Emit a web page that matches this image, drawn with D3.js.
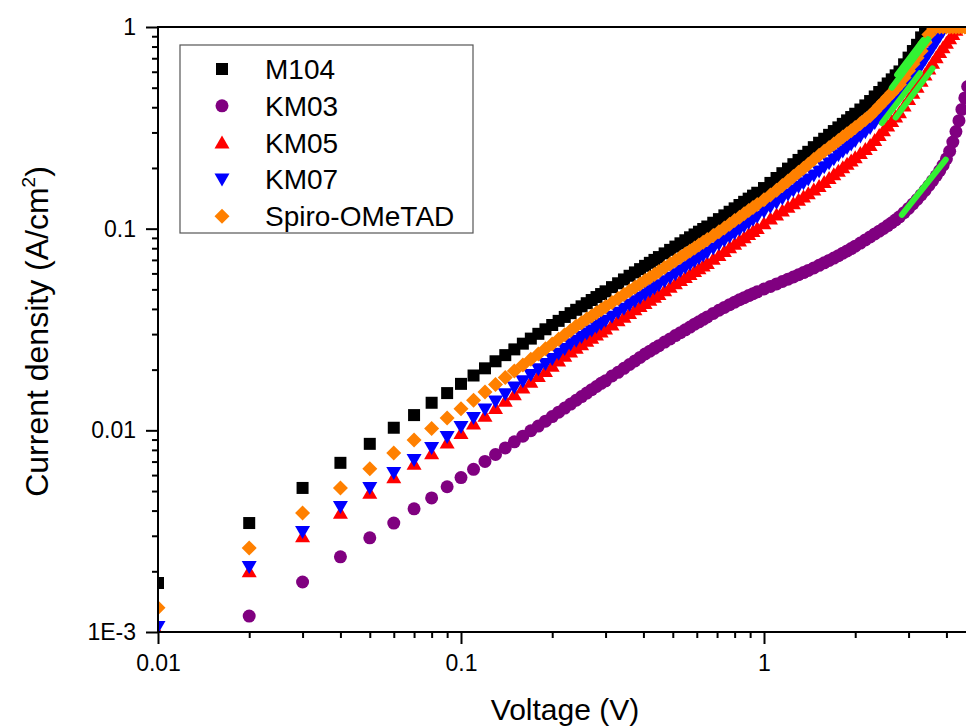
<!DOCTYPE html>
<html>
<head>
<meta charset="utf-8">
<script src="https://cdn.jsdelivr.net/npm/d3@7"></script>
<style>
  body { margin: 0; background: #fff; }
  text { font-family: "Liberation Sans", Arial, sans-serif; fill: #000; }
</style>
</head>
<body>
<div id="jv_loglog"></div>
<script>
// voltage points (V), shared by every sample
var voltage = [
  0.01,0.02,0.03,0.04,0.05,0.06,0.07,0.08,0.09,0.10,
  0.11,0.12,0.13,0.14,0.15,0.16,0.17,0.18,0.19,0.20,
  0.21,0.22,0.23,0.24,0.25,0.26,0.27,0.28,0.29,0.30,
  0.315,0.33,0.345,0.36,0.375,0.39,0.405,0.42,0.435,0.45,
  0.47,0.49,0.51,0.53,0.55,0.57,0.59,0.61,0.63,0.65,
  0.68,0.71,0.74,0.77,0.80,0.83,0.86,0.89,0.92,0.95,
  1.00,1.05,1.10,1.15,1.20,1.25,1.30,1.35,1.40,
  1.46,1.52,1.58,1.64,1.70,1.76,1.82,1.88,1.94,2.00,
  2.08,2.16,2.24,2.32,2.40,2.48,2.56,2.64,2.72,2.80,
  2.9,3.0,3.1,3.2,3.3,3.4,3.5,3.6,3.7,3.8,3.9,4.0,4.1,4.2,4.3,4.4,4.5,4.6,4.7
];

// current density (A/cm2) for each sample
var jM104 = [
  0.00175,0.00347,0.00518,0.0069,0.00857,0.0103,0.0119,0.0137,0.0153,0.0170,
  0.0187,0.0203,0.0220,0.0236,0.0252,0.0269,0.0285,0.0301,0.0317,0.0333,
  0.0349,0.0365,0.0381,0.0396,0.0412,0.0427,0.0443,0.0458,0.0474,0.0489,
  0.0513,0.0536,0.0560,0.0584,0.0607,0.0630,0.0654,0.0677,0.0700,0.0723,
  0.0754,0.0785,0.0815,0.0846,0.0876,0.0906,0.0936,0.0966,0.0996,0.1025,
  0.1070,0.1115,0.1164,0.1213,0.1261,0.1310,0.1359,0.1409,0.1458,0.1507,
  0.159,0.1686,0.1784,0.1884,0.1985,0.2088,0.2192,0.2298,0.2405,
  0.2536,0.2667,0.2792,0.2919,0.3048,0.3178,0.3309,0.3443,0.3577,0.3714,
  0.3898,0.4085,0.4294,0.4524,0.4760,0.5002,0.5248,0.5499,0.5758,0.602,
  0.653,0.705,0.760,0.816,0.888,0.962,1,1,1,1,1,1,1,1,1,1,1,1,1
];
var jKM03 = [
  0.0006,0.0012,0.00177,0.00236,0.00293,0.00347,0.00408,0.00462,0.00525,0.00583,
  0.00641,0.00701,0.00759,0.00818,0.00877,0.00936,0.00995,0.0105,0.0111,0.0117,
  0.0123,0.0129,0.0135,0.0141,0.0147,0.0153,0.0159,0.0165,0.0171,0.0176,
  0.0186,0.0194,0.0203,0.0212,0.0221,0.0230,0.0239,0.0247,0.0255,0.0263,
  0.0274,0.0284,0.0295,0.0305,0.0315,0.0325,0.0336,0.0345,0.0355,0.0365,
  0.0380,0.0394,0.0407,0.0420,0.0432,0.0444,0.0455,0.0466,0.0476,0.0486,
  0.0502,0.0517,0.0532,0.0547,0.0562,0.0576,0.0591,0.0606,0.0621,
  0.0639,0.0658,0.0677,0.0696,0.0715,0.0735,0.0756,0.0776,0.0797,0.0819,
  0.0848,0.0879,0.0910,0.0942,0.0972,0.1003,0.1036,0.1070,0.1106,0.1145,
  0.1200,0.1260,0.1325,0.1395,0.1470,0.1550,0.1637,0.1730,0.1830,0.1940,0.2065,0.2220,0.2420,0.2690,0.3030,0.3430,0.3900,0.4450,0.5070
];
var jKM05 = [
  0.000995,0.0020,0.00298,0.0039,0.0049,0.00586,0.00683,0.0077,0.0087,0.0097,
  0.0108,0.0118,0.0129,0.0140,0.0151,0.0163,0.0174,0.0186,0.0197,0.0209,
  0.0222,0.0234,0.0246,0.0257,0.0267,0.0278,0.0288,0.0299,0.0309,0.0320,
  0.0335,0.0351,0.0366,0.0382,0.0398,0.0413,0.0428,0.0444,0.0459,0.0474,
  0.0495,0.0515,0.0536,0.0556,0.0576,0.0596,0.0616,0.0636,0.0656,0.0676,
  0.0709,0.0741,0.0774,0.0808,0.0841,0.0874,0.0907,0.0941,0.0974,0.1008,
  0.1065,0.1122,0.1177,0.1231,0.1284,0.1338,0.1391,0.1445,0.1498,
  0.1562,0.1630,0.1706,0.1783,0.1860,0.1939,0.2018,0.2098,0.2180,0.2262,
  0.2373,0.2484,0.2598,0.2754,0.2914,0.3078,0.3246,0.3421,0.3599,0.378,
  0.408,0.440,0.472,0.506,0.541,0.581,0.622,0.664,0.707,0.752,0.793,0.836,0.879,0.923,0.968,1,1,1,1
];
var jKM07 = [
  0.00106,0.0021,0.00313,0.00417,0.00518,0.00615,0.00713,0.00818,0.00927,0.0104,
  0.0115,0.0127,0.0139,0.0151,0.0163,0.0175,0.0188,0.0201,0.0213,0.0226,
  0.0240,0.0253,0.0267,0.0278,0.0290,0.0302,0.0313,0.0325,0.0337,0.0349,
  0.0366,0.0383,0.0401,0.0419,0.0436,0.0454,0.0471,0.0489,0.0506,0.0524,
  0.0548,0.0571,0.0595,0.0619,0.0642,0.0666,0.0689,0.0713,0.0737,0.0761,
  0.0798,0.0836,0.0874,0.0912,0.0950,0.0989,0.1028,0.1067,0.1106,0.1146,
  0.1212,0.1279,0.1345,0.1411,0.1478,0.1546,0.1613,0.1682,0.1751,
  0.1834,0.1921,0.2016,0.2112,0.2212,0.2311,0.2412,0.2514,0.2617,0.2724,
  0.2866,0.3011,0.3158,0.3343,0.3535,0.3730,0.3932,0.4137,0.4349,0.4564,
  0.491,0.526,0.563,0.601,0.642,0.690,0.739,0.790,0.843,0.897,0.953,1,1,1,1,1,1,1,1
];
var jSpiro = [
  0.00132,0.00261,0.00389,0.00518,0.00644,0.00772,0.00896,0.0102,0.0115,0.0128,
  0.0141,0.0155,0.0169,0.0183,0.0197,0.0211,0.0225,0.0239,0.0254,0.0268,
  0.0283,0.0298,0.0313,0.0329,0.0342,0.0356,0.0369,0.0383,0.0396,0.0410,
  0.0431,0.0451,0.0471,0.0492,0.0512,0.0532,0.0553,0.0573,0.0593,0.0614,
  0.0641,0.0668,0.0695,0.0722,0.0749,0.0776,0.0803,0.0830,0.0857,0.0884,
  0.0925,0.0966,0.1009,0.1053,0.1097,0.1140,0.1184,0.1229,0.1273,0.1318,
  0.1392,0.1468,0.1549,0.1635,0.1723,0.1813,0.1903,0.1995,0.2089,
  0.2203,0.2315,0.2419,0.2524,0.2630,0.2737,0.2845,0.2953,0.3063,0.3176,
  0.3324,0.3475,0.3629,0.3835,0.4046,0.4263,0.4485,0.4710,0.4942,0.518,
  0.562,0.607,0.655,0.704,0.761,0.838,0.918,1,1,1,1,1,1,1,1,1,1,1,1
];

var seriesNames  = ["M104", "KM03", "KM05", "KM07", "Spiro-OMeTAD"];
var seriesValues = [jM104, jKM03, jKM05, jKM07, jSpiro];
var seriesColors = ["#000000", "#800080", "#ff0000", "#0000ff", "#ff8000"];
var seriesShapes = ["square", "circle", "triangleUp", "triangleDown", "diamond"];

// green straight-line fits (slope ~2 region), end points
var fitV1 = [2.75, 2.85, 2.72, 2.45, 2.64];
var fitV2 = [3.35, 3.98, 3.60, 3.27, 3.48];
var fitJ1 = [0.58, 0.117, 0.356, 0.334, 0.50];
var fitJ2 = [0.86, 0.220, 0.624, 0.59, 0.87];

// ticks
var xMajor = [0.01, 0.1, 1];
var xMajorLabels = ["0.01", "0.1", "1"];
var xMinor = [0.02,0.03,0.04,0.05,0.06,0.07,0.08,0.09,0.2,0.3,0.4,0.5,0.6,0.7,0.8,0.9,2,3,4];
var yMajor = [0.001, 0.01, 0.1, 1];
var yMajorLabels = ["1E-3", "0.01", "0.1", "1"];
var yMinor = [0.002,0.003,0.004,0.005,0.006,0.007,0.008,0.009,0.02,0.03,0.04,0.05,0.06,0.07,0.08,0.09,0.2,0.3,0.4,0.5,0.6,0.7,0.8,0.9];

// set the dimensions and margins of the graph
var margin = {top: 27, right: 0, bottom: 95, left: 158},
    width = 966 - margin.left - margin.right,
    height = 727 - margin.top - margin.bottom;

var svg = d3.select("#jv_loglog")
  .append("svg")
    .attr("width", 966)
    .attr("height", 727)
  .append("g")
    .attr("transform", "translate(" + margin.left + "," + margin.top + ")");

var x = d3.scaleLog().domain([0.01, 1]).range([0, 606]);
var y = d3.scaleLog().domain([0.001, 1]).range([height, 0]);

svg.append("clipPath").attr("id", "plotClip")
  .append("rect").attr("x", 0).attr("y", 0).attr("width", width).attr("height", height);

// marker shapes, centred on 0,0
function markerPath(shape) {
  if (shape == "square") return "M-6,-6h12v12h-12Z";
  if (shape == "circle") return "M6.5,0A6.5,6.5 0 1,1 -6.5,0A6.5,6.5 0 1,1 6.5,0Z";
  if (shape == "triangleUp") return "M0,-7L7.5,6L-7.5,6Z";
  if (shape == "triangleDown") return "M0,7L7.5,-6L-7.5,-6Z";
  return "M0,-7.5L7.5,0L0,7.5L-7.5,0Z";
}

var plot = svg.append("g").attr("clip-path", "url(#plotClip)");

seriesNames.forEach(function(name, s) {
  var pts = voltage.map(function(v, i) { return {v: v, j: seriesValues[s][i]}; });
  plot.append("g")
    .selectAll("path")
    .data(pts)
    .enter()
    .append("path")
      .attr("d", markerPath(seriesShapes[s]))
      .attr("transform", function(d) { return "translate(" + x(d.v) + "," + y(d.j) + ")"; })
      .style("fill", seriesColors[s]);
});

// fit lines
plot.append("g")
  .selectAll("line")
  .data(fitV1)
  .enter()
  .append("line")
    .attr("x1", function(d, i) { return x(fitV1[i]); })
    .attr("y1", function(d, i) { return y(fitJ1[i]); })
    .attr("x2", function(d, i) { return x(fitV2[i]); })
    .attr("y2", function(d, i) { return y(fitJ2[i]); })
    .style("stroke", "#33f233")
    .style("stroke-width", 6)
    .style("stroke-linecap", "round");

// axes: minor ticks then major ticks with labels
svg.append("g")
  .attr("transform", "translate(0," + height + ")")
  .call(d3.axisBottom(x).tickValues(xMinor).tickSize(6).tickFormat(""))
  .call(function(g) { g.select(".domain").remove(); });
svg.append("g")
  .attr("transform", "translate(0," + height + ")")
  .call(d3.axisBottom(x).tickValues(xMajor).tickSize(12).tickPadding(11)
    .tickFormat(function(d, i) { return xMajorLabels[i]; }))
  .call(function(g) { g.select(".domain").remove(); });
svg.append("g")
  .call(d3.axisLeft(y).tickValues(yMinor).tickSize(6).tickFormat(""))
  .call(function(g) { g.select(".domain").remove(); });
svg.append("g")
  .call(d3.axisLeft(y).tickValues(yMajor).tickSize(12).tickPadding(10)
    .tickFormat(function(d, i) { return yMajorLabels[i]; }))
  .call(function(g) { g.select(".domain").remove(); });

svg.selectAll(".tick line").style("stroke", "#000").style("stroke-width", 2);
svg.selectAll(".tick text").style("font-size", "23px").style("font-family", "Liberation Sans, Arial, sans-serif");

// frame lines (left, bottom, top)
svg.append("path")
  .attr("d", "M" + width + ",0H0V" + height + "H" + width)
  .style("fill", "none")
  .style("stroke", "#000")
  .style("stroke-width", 2);

// legend
var legend = svg.append("g").attr("transform", "translate(22,18)");
legend.append("rect")
  .attr("width", 293)
  .attr("height", 188)
  .style("fill", "#fff")
  .style("stroke", "#555")
  .style("stroke-width", 1.2);
seriesNames.forEach(function(name, s) {
  var row = legend.append("g").attr("transform", "translate(0," + (24 + s * 36.8) + ")");
  row.append("path")
    .attr("d", markerPath(seriesShapes[s]))
    .attr("transform", "translate(42,0)")
    .style("fill", seriesColors[s]);
  row.append("text")
    .attr("x", 85)
    .attr("y", 10)
    .style("font-size", "28px")
    .text(name);
});

// axis titles
svg.append("text")
  .attr("x", 407)
  .attr("y", height + 88)
  .attr("text-anchor", "middle")
  .style("font-size", "30px")
  .text("Voltage (V)");

var yTitle = svg.append("text")
  .attr("transform", "translate(-110," + (height / 2 + 2) + ") rotate(-90)")
  .attr("text-anchor", "middle")
  .style("font-size", "32px");
yTitle.append("tspan").text("Current density (A/cm");
yTitle.append("tspan").attr("dy", -13).style("font-size", "19px").text("2");
yTitle.append("tspan").attr("dy", 13).text(")");
</script>
</body>
</html>
